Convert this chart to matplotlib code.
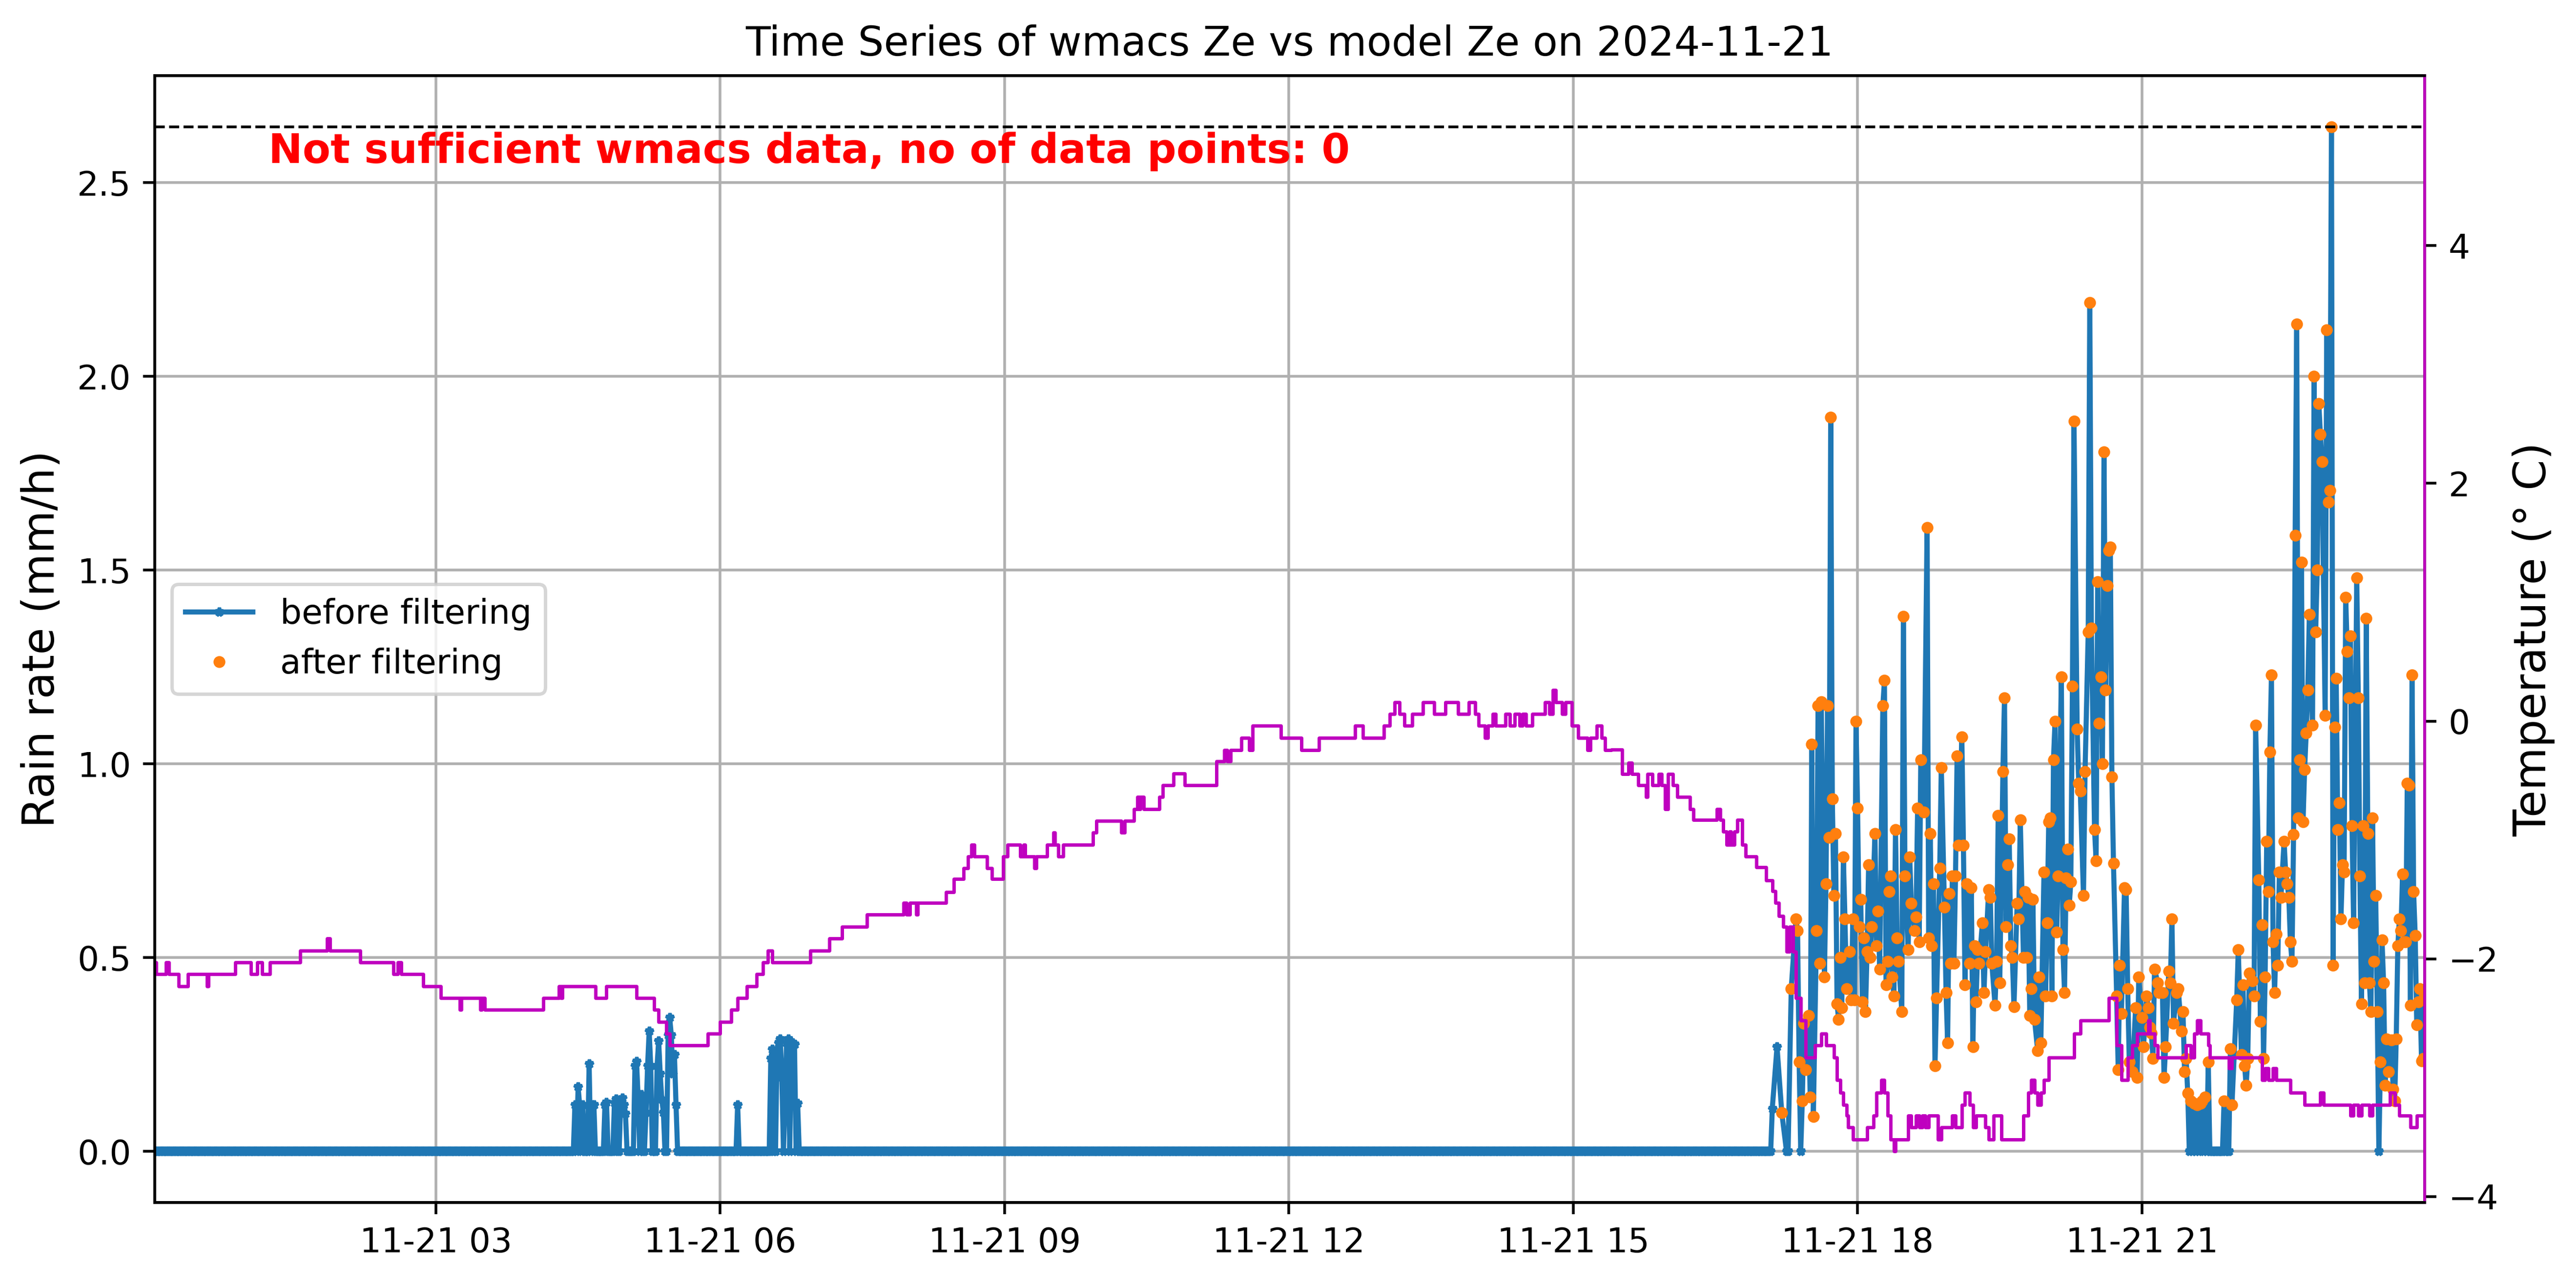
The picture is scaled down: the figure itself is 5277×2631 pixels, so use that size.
import numpy as np
import pandas as pd
import matplotlib
matplotlib.use("Agg")
import matplotlib.pyplot as plt

day = pd.Timestamp("2024-11-21")

# rain rate (mm/h), 1-min data, time given as minute of the day
first_min = 2
quiet_end = 1025  # every minute up to here is 0 except the spikes below

spike_min = [268, 270, 271, 273, 277, 279, 280, 287, 288, 293, 294, 297, 298, 299, 300,
             306, 307, 308, 310, 313, 314, 315, 316, 320, 321, 322, 323, 324, 327, 328,
             329, 330, 331, 332, 371, 392, 393, 396, 397, 398, 399, 401, 402, 403, 405,
             406, 407, 409]
spike_val = [0.12, 0.166, 0.12, 0.12, 0.225, 0.12, 0.12, 0.12, 0.126, 0.125, 0.135, 0.13,
             0.137, 0.12, 0.097, 0.22, 0.232, 0.14, 0.146, 0.10, 0.22, 0.31, 0.22, 0.22,
             0.285, 0.20, 0.133, 0.10, 0.30, 0.345, 0.30, 0.20, 0.25, 0.12, 0.12, 0.24,
             0.263, 0.26, 0.28, 0.29, 0.19, 0.124, 0.28, 0.29, 0.27, 0.28, 0.276, 0.124]

late_min = [1026, 1029, 1032, 1035, 1036, 1038, 1041, 1042, 1043, 1044, 1045, 1046, 1047,
            1049, 1050, 1051, 1052, 1054, 1055, 1056, 1057, 1059, 1060, 1061, 1062, 1063,
            1064, 1065, 1066, 1067, 1068, 1069, 1070, 1071, 1072, 1073, 1075, 1076, 1077,
            1078, 1079, 1080, 1081, 1082, 1083, 1084, 1085, 1086, 1087, 1088, 1089, 1091,
            1092, 1093, 1094, 1096, 1097, 1098, 1099, 1100, 1101, 1102, 1103, 1104, 1105,
            1106, 1108, 1109, 1110, 1112, 1113, 1114, 1116, 1117, 1118, 1119, 1120, 1122,
            1124, 1125, 1126, 1127, 1128, 1129, 1130, 1132, 1133, 1135, 1136, 1137, 1138,
            1139, 1140, 1141, 1142, 1143, 1144, 1146, 1147, 1148, 1149, 1151, 1152, 1153,
            1154, 1155, 1156, 1157, 1159, 1160, 1161, 1163, 1164, 1165, 1167, 1168, 1169,
            1170, 1172, 1173, 1174, 1175, 1176, 1177, 1178, 1179, 1181, 1182, 1183, 1185,
            1186, 1187, 1188, 1189, 1190, 1191, 1192, 1194, 1195, 1196, 1198, 1199, 1200,
            1201, 1202, 1203, 1204, 1205, 1206, 1207, 1209, 1210, 1211, 1212, 1213, 1214,
            1215, 1216, 1217, 1219, 1220, 1221, 1223, 1224, 1226, 1227, 1228, 1230, 1231,
            1232, 1233, 1234, 1235, 1236, 1237, 1238, 1239, 1240, 1241, 1242, 1244, 1245,
            1246, 1247, 1249, 1250, 1251, 1252, 1254, 1256, 1257, 1258, 1260, 1261, 1263,
            1264, 1265, 1266, 1267, 1268, 1270, 1271, 1273, 1274, 1275, 1277, 1278, 1279,
            1280, 1282, 1283, 1285, 1286, 1287, 1288, 1289, 1290, 1291, 1292, 1293, 1294,
            1295, 1296, 1297, 1298, 1299, 1300, 1301, 1302, 1303, 1304, 1305, 1306, 1307,
            1308, 1309, 1310, 1311, 1312, 1313, 1314, 1315, 1316, 1317, 1320, 1321, 1323,
            1324, 1325, 1326, 1327, 1328, 1330, 1331, 1332, 1334, 1335, 1336, 1337, 1338,
            1339, 1340, 1341, 1342, 1343, 1344, 1345, 1346, 1347, 1348, 1350, 1351, 1352,
            1353, 1354, 1355, 1356, 1357, 1358, 1359, 1360, 1361, 1362, 1363, 1364, 1365,
            1366, 1368, 1369, 1370, 1371, 1372, 1373, 1374, 1376, 1377, 1378, 1379, 1380,
            1381, 1382, 1383, 1384, 1385, 1386, 1387, 1388, 1389, 1390, 1391, 1392, 1393,
            1394, 1396, 1397, 1398, 1399, 1400, 1401, 1402, 1403, 1404, 1405, 1406, 1407,
            1408, 1409, 1410, 1411, 1412, 1413, 1414, 1415, 1416, 1418, 1419, 1420, 1421,
            1422, 1423, 1424, 1425, 1426, 1427, 1428, 1429, 1430, 1431, 1432, 1433, 1434,
            1435, 1436, 1437, 1438, 1439]
late_val = [0.11, 0.27, 0.10, 0.0, 0.0, 0.42, 0.60, 0.57, 0.23, 0.0, 0.13, 0.33, 0.21,
            0.35, 0.14, 1.05, 0.09, 0.57, 1.15, 0.485, 1.16, 0.45, 0.69, 1.15, 0.81, 1.895,
            0.91, 0.66, 0.82, 0.38, 0.34, 0.50, 0.37, 0.76, 0.60, 0.42, 0.515, 0.39, 0.60,
            0.39, 1.11, 0.885, 0.58, 0.65, 0.386, 0.55, 0.36, 0.515, 0.74, 0.50, 0.58, 0.82,
            0.53, 0.62, 0.47, 1.15, 1.215, 0.43, 0.49, 0.67, 0.71, 0.45, 0.40, 0.83, 0.55,
            0.49, 0.36, 1.38, 0.71, 0.52, 0.76, 0.64, 0.57, 0.605, 0.885, 0.54, 1.01, 0.875,
            1.61, 0.55, 0.82, 0.53, 0.69, 0.22, 0.395, 0.73, 0.99, 0.63, 0.41, 0.28, 0.665,
            0.485, 0.71, 0.485, 0.71, 1.02, 0.79, 1.07, 0.79, 0.43, 0.69, 0.485, 0.68, 0.27,
            0.53, 0.385, 0.52, 0.485, 0.59, 0.41, 0.515, 0.675, 0.655, 0.485, 0.377, 0.49, 0.867,
            0.435, 0.98, 1.17, 0.58, 0.74, 0.806, 0.53, 0.50, 0.373, 0.64, 0.60, 0.855, 0.50,
            0.67, 0.50, 0.655, 0.35, 0.42, 0.65, 0.34, 0.26, 0.45, 0.28, 0.72, 0.40, 0.59,
            0.85, 0.86, 0.40, 1.01, 1.11, 0.566, 0.71, 1.225, 0.52, 0.41, 0.705, 0.78, 0.635,
            0.695, 1.20, 1.885, 1.09, 0.95, 0.93, 0.66, 0.98, 1.34, 2.19, 1.35, 0.83, 0.75,
            1.47, 1.105, 1.225, 1.00, 1.805, 1.19, 1.46, 1.55, 1.56, 0.966, 0.743, 0.40, 0.21,
            0.48, 0.355, 0.68, 0.675, 0.42, 0.23, 0.205, 0.37, 0.19, 0.45, 0.345, 0.27, 0.40,
            0.37, 0.32, 0.305, 0.24, 0.47, 0.435, 0.41, 0.41, 0.19, 0.27, 0.465, 0.435, 0.60,
            0.33, 0.41, 0.42, 0.31, 0.36, 0.205, 0.24, 0.15, 0.0, 0.13, 0.0, 0.124, 0.0,
            0.12, 0.0, 0.124, 0.13, 0.0, 0.14, 0.0, 0.23, 0.0, 0.0, 0.0, 0.0, 0.0,
            0.0, 0.0, 0.0, 0.0, 0.13, 0.0, 0.0, 0.0, 0.265, 0.12, 0.39, 0.52, 0.25,
            0.43, 0.22, 0.17, 0.24, 0.46, 0.44, 0.40, 1.10, 0.70, 0.335, 0.585, 0.24, 0.45,
            0.80, 0.67, 1.03, 1.23, 0.54, 0.41, 0.56, 0.48, 0.72, 0.655, 0.80, 0.72, 0.69,
            0.655, 0.54, 0.49, 0.817, 1.59, 2.135, 0.86, 1.01, 1.52, 0.85, 0.985, 1.08, 1.19,
            1.385, 1.10, 2.0, 1.34, 1.50, 1.93, 1.85, 1.78, 1.125, 2.12, 1.675, 1.705, 2.644,
            0.48, 1.095, 1.22, 0.83, 0.90, 0.60, 0.74, 0.72, 1.43, 1.29, 1.17, 1.33, 0.84,
            0.59, 1.48, 1.17, 0.71, 0.38, 0.84, 0.435, 1.375, 0.82, 0.435, 0.36, 0.86, 0.49,
            0.66, 0.36, 0.0, 0.23, 0.545, 0.435, 0.17, 0.29, 0.205, 0.287, 0.16, 0.13, 0.29,
            0.53, 0.60, 0.57, 0.715, 0.54, 0.54, 0.95, 0.945, 0.377, 1.23, 0.67, 0.557, 0.326,
            0.386, 0.42, 0.233, 0.24, 0.40]

filter_from = 1030  # points kept by the filter start here

# temperature (deg C), minute where each new level starts
temp_min = [2, 3, 9, 11, 17, 23, 35, 36, 53, 63, 67, 70, 75, 94, 111, 113, 132, 153, 156, 158,
            172, 183, 195, 196, 208, 209, 211, 248, 258, 259, 260, 281, 288, 307, 318, 321,
            326, 328, 352, 360, 367, 371, 377, 383, 387, 390, 393, 417,
            429, 437, 453, 476, 478, 480, 484, 485, 503, 508, 514, 517, 519, 521, 529, 532,
            539, 542, 550, 552, 553, 559, 560, 567, 571, 572, 574, 577, 596, 598, 614, 616,
            622, 624, 625, 626, 628, 638, 640, 647, 654, 674, 679, 681, 683, 690, 695, 697,
            715, 728, 739, 762, 767, 780, 784, 787, 790, 793, 798, 805, 812, 819, 827, 834,
            838, 840, 844, 846, 849, 851, 857, 860, 863, 866, 868, 870, 874, 882, 885, 887,
            889, 893, 895, 899, 903, 909, 911, 915, 918, 920,
            924, 931, 935, 937, 941, 946, 947, 950, 954, 956, 958, 960, 963, 966, 974, 976,
            991, 993, 995, 997, 999, 1000, 1002, 1004, 1007, 1009, 1016, 1022, 1026, 1028,
            1030, 1033, 1035, 1037, 1039, 1041, 1044, 1047, 1053, 1057, 1060, 1065, 1067,
            1069, 1071, 1073, 1074, 1077, 1086, 1090, 1092, 1095, 1097, 1099, 1101, 1103,
            1104, 1112, 1114, 1117, 1119, 1121, 1123, 1125, 1131, 1133, 1140, 1142, 1146,
            1148, 1151, 1153, 1155, 1161, 1163, 1166, 1171, 1185, 1188, 1190, 1192, 1194,
            1196, 1198, 1201, 1217, 1221, 1239, 1244, 1247, 1251, 1254, 1257, 1264, 1265,
            1268, 1270, 1288, 1291, 1293, 1295, 1297, 1302, 1303, 1315, 1317, 1336, 1338,
            1340, 1343, 1345, 1354, 1363, 1373, 1375, 1392, 1394, 1397, 1399, 1404, 1406,
            1417, 1420, 1423, 1430, 1434, 1439]
temp_val = [-2.03, -2.13, -2.03, -2.13, -2.23, -2.13, -2.23, -2.13, -2.03, -2.13, -2.03,
            -2.13, -2.03, -1.93, -1.83, -1.93, -2.03, -2.13, -2.03, -2.13, -2.23, -2.33,
            -2.43, -2.33, -2.43, -2.33, -2.43, -2.33, -2.23, -2.33, -2.23, -2.33, -2.23,
            -2.33, -2.43, -2.53, -2.63, -2.73, -2.63, -2.53, -2.43, -2.33, -2.23, -2.13,
            -2.03, -1.93, -2.03, -1.93,
            -1.83, -1.73, -1.63, -1.53, -1.63, -1.53, -1.63, -1.53, -1.44, -1.33, -1.24,
            -1.14, -1.04, -1.14, -1.24, -1.33, -1.14, -1.04, -1.14, -1.04, -1.14, -1.24,
            -1.14, -1.04, -0.94, -1.04, -1.14, -1.04, -0.94, -0.84, -0.94, -0.84, -0.74,
            -0.64, -0.74, -0.64, -0.74, -0.64, -0.54, -0.44, -0.54, -0.34, -0.245, -0.34,
            -0.245, -0.14, -0.245, -0.04, -0.14, -0.245, -0.14, -0.04, -0.14, -0.04, 0.06,
            0.16, 0.06, -0.04, 0.06, 0.16, 0.06, 0.16, 0.06, 0.16, 0.06, -0.04, -0.14, -0.04,
            0.06, -0.04, 0.06, -0.04, 0.06, -0.04, 0.06, -0.04, 0.06, 0.16, 0.06, 0.26, 0.16,
            0.06, 0.16, -0.04, -0.14, -0.245, -0.14, -0.04, -0.14, -0.245,
            -0.24, -0.445, -0.35, -0.445, -0.54, -0.64, -0.445, -0.54, -0.445, -0.54, -0.74,
            -0.445, -0.54, -0.64, -0.74, -0.83, -0.74, -0.83, -0.93, -1.04, -0.93, -1.04,
            -0.93, -0.83, -1.04, -1.14, -1.23, -1.34, -1.43, -1.53, -1.64, -1.73, -1.94,
            -1.73, -1.94, -2.33, -2.52, -2.83, -2.73, -2.63, -2.73, -2.83, -3.02, -3.125,
            -3.23, -3.32, -3.42, -3.52, -3.42, -3.32, -3.125, -3.02, -3.125, -3.32, -3.52,
            -3.62, -3.52, -3.32, -3.42, -3.32, -3.42, -3.32, -3.42, -3.32, -3.52, -3.42,
            -3.32, -3.42, -3.23, -3.125, -3.23, -3.42, -3.32, -3.42, -3.52, -3.32, -3.52,
            -3.32, -3.125, -3.02, -3.125, -3.23, -3.125, -3.02, -2.83, -2.63, -2.52, -2.33,
            -2.73, -3.02, -2.83, -2.73, -2.63, -2.52, -2.63, -2.73, -2.83, -2.73, -2.83,
            -2.63, -2.52, -2.63, -2.73, -2.83, -2.92, -2.83, -3.02, -2.92, -3.02, -2.92,
            -3.02, -3.125, -3.23, -3.125, -3.23, -3.32, -3.23, -3.32, -3.23, -3.32, -3.23,
            -3.125, -3.23, -3.32, -3.42, -3.32, -3.32]

# build the rain series
early_min = np.arange(first_min, quiet_end + 1)
early_val = np.zeros(len(early_min))
early_val[np.searchsorted(early_min, spike_min)] = spike_val

minutes = np.concatenate([early_min, late_min])
rain = np.concatenate([early_val, late_val])
t = (day + pd.to_timedelta(minutes, unit="min")).to_numpy()
keep = (minutes >= filter_from) & (rain > 0)

t_temp = (day + pd.to_timedelta(temp_min, unit="min")).to_numpy()

W, H, DPI = 5277, 2631, 500
fig = plt.figure(figsize=(W / DPI, H / DPI), dpi=DPI)
ax1 = fig.add_axes([317 / W, 1 - 2464 / H, (4967 - 317) / W, (2464 - 155) / H])

ax1.plot(t, rain, marker="*", markersize=2.5, label="before filtering")
ax1.plot(t[keep], rain[keep], "o", markersize=2.5, label="after filtering")
ax1.set_ylabel("Rain rate (mm/h)", fontsize=13)
ax1.set_title("Time Series of wmacs Ze vs model Ze on 2024-11-21")
ax1.grid(True)
ax1.legend(loc="center left")
ax1.text(0.05, 0.95, "Not sufficient wmacs data, no of data points: 0",
         transform=ax1.transAxes, color="red", fontsize=12, fontweight="bold", va="top")

ax2 = ax1.twinx()
ax2.plot(t_temp, temp_val, color="m", linewidth=1, drawstyle="steps-post")
ax2.axhline(5, color="k", linestyle="--", linewidth=0.8)
ax2.set_ylabel("Temperature (° C)", fontsize=13)
ax2.spines["right"].set_color("m")

ax1.set_xlim(t[0], t[-1])

fig.savefig("out.png", dpi=DPI)
